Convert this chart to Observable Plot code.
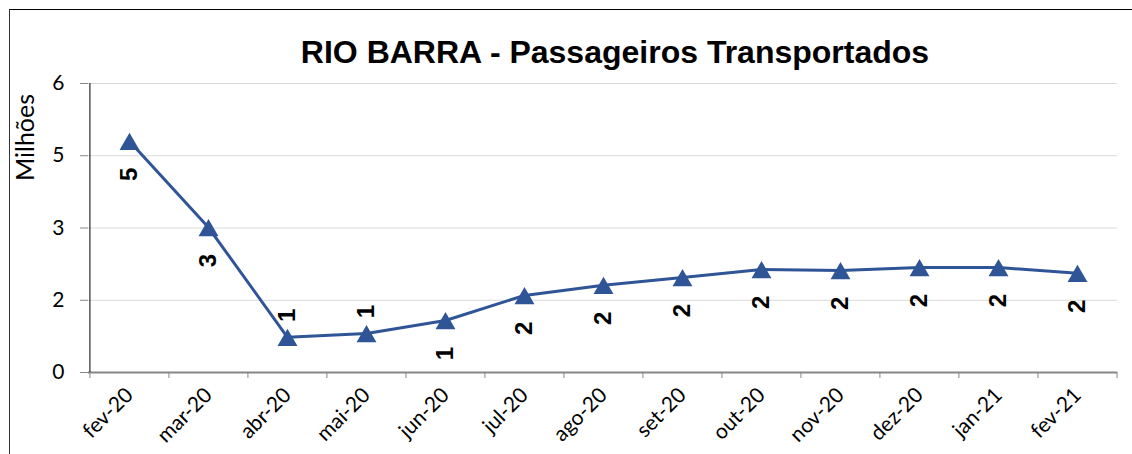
<!DOCTYPE html>
<html>
<head>
<meta charset="utf-8">
<script src="https://cdn.jsdelivr.net/npm/d3@7"></script>
<script src="https://cdn.jsdelivr.net/npm/@observablehq/plot@0.6"></script>
<style>
  html, body { margin: 0; padding: 0; background: #fff; overflow: hidden; width: 1132px; height: 454px; }
  #frame { position: absolute; left: 9px; top: 9px; width: 1200px; height: 600px; border-left: 1px solid #333; border-top: 1px solid #000; }
  #wrap { position: relative; width: 1132px; }
  #title { height: 70px; box-sizing: border-box; padding-top: 36px; padding-left: 98px; line-height: 32px; text-align: center;
           font-family: "Liberation Sans", Arial, sans-serif; font-weight: bold; font-size: 32px; color: #000; white-space: nowrap; }
  #chart svg { display: block; background: transparent !important; }
</style>
</head>
<body>
<div id="frame"></div>
<div id="wrap">
  <div id="title">RIO BARRA - Passageiros Transportados</div>
  <div id="chart"></div>
</div>
<script>
const months = ["fev-20","mar-20","abr-20","mai-20","jun-20","jul-20","ago-20","set-20","out-20","nov-20","dez-20","jan-21","fev-21"];
const values = [4.80, 3.01, 0.73, 0.81, 1.08, 1.60, 1.81, 1.97, 2.14, 2.12, 2.18, 2.18, 2.06];
const yTicks = [0, 1.5, 3, 4.5, 6];
const labelsAbove = ["abr-20", "mai-20"];
const yLabel = "Milhões";

const data = months.map((m, i) => ({month: m, value: values[i]}));
const color = "#2F5597";
const W = 1132, H = 384, ML = 88, MR = 15, MT = 13, MB = 82;
const step = (W - ML - MR) / months.length;

const chart = Plot.plot({
  width: W, height: H,
  marginLeft: ML, marginRight: MR, marginTop: MT, marginBottom: MB,
  style: {fontFamily: "Lato, sans-serif", color: "#000", background: "transparent"},
  x: {type: "point", domain: months, padding: 0.5, align: 0.5},
  y: {domain: [0, 6]},
  marks: [
    Plot.ruleY(yTicks.filter(d => d > 0), {stroke: "#d9d9d9", strokeWidth: 1}),
    Plot.ruleY([0], {stroke: "#868686", strokeWidth: 2}),
    Plot.ruleX([months[0]], {y1: 0, y2: 6, dx: -step / 2, stroke: "#000", strokeWidth: 1}),
    Plot.axisY({ticks: yTicks, tickFormat: d => String(Math.round(d)), tickSize: 8, tickPadding: 16, fontSize: 21, stroke: "#868686", label: null}),
    Plot.axisX({tickSize: 6, text: null, dx: -step / 2, stroke: "#868686", label: null}),
    Plot.axisX({ticks: [months[months.length - 1]], tickSize: 6, text: null, dx: step / 2, stroke: "#868686", label: null}),
    Plot.axisX({tickSize: 0, tickRotate: -45, tickPadding: 19, fontSize: 21, label: null}),
    Plot.text([yLabel], {text: d => d, frameAnchor: "top-left", dx: -63, dy: 54, rotate: -90, fontSize: 25, textAnchor: "middle", lineAnchor: "middle", fill: "#000"}),
    Plot.line(data, {x: "month", y: "value", stroke: color, strokeWidth: 3}),
    Plot.dot(data, {x: "month", y: "value", symbol: "triangle", r: 7.4, fill: color, stroke: "none", dy: 3}),
    Plot.text(data.filter(d => !labelsAbove.includes(d.month)), {x: "month", y: "value", text: d => String(Math.round(d.value)), rotate: -90, dy: 33, lineAnchor: "middle", textAnchor: "middle", fontFamily: "Liberation Sans, Arial, sans-serif", fontWeight: "bold", fontSize: 24, fill: "#000"}),
    Plot.text(data.filter(d => labelsAbove.includes(d.month)), {x: "month", y: "value", text: d => String(Math.round(d.value)), rotate: -90, dy: -22, lineAnchor: "middle", textAnchor: "middle", fontFamily: "Liberation Sans, Arial, sans-serif", fontWeight: "bold", fontSize: 24, fill: "#000"})
  ]
});
document.getElementById("chart").appendChild(chart);
</script>
</body>
</html>
